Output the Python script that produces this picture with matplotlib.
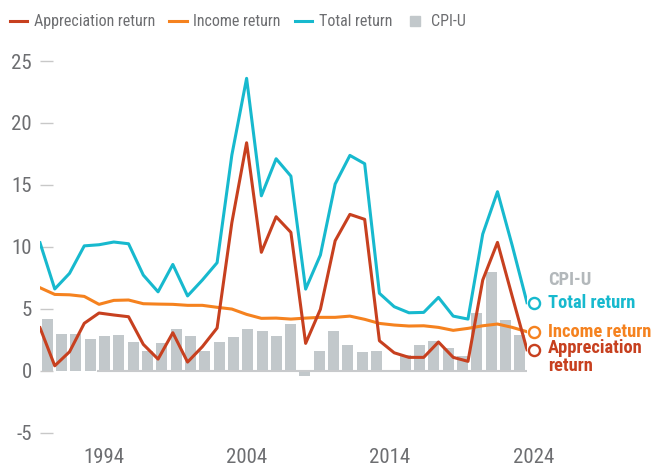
import matplotlib
matplotlib.use("Agg")
import matplotlib.pyplot as plt
import matplotlib.font_manager as fm
from matplotlib.lines import Line2D
import numpy as np

years = list(range(1991, 2025))
appreciation = [3.47, 0.4, 1.53, 3.83, 4.66, 4.5, 4.36, 2.13, 0.94, 3.07, 0.7, 1.94, 3.45,
                11.95, 18.4, 9.56, 12.43, 11.17, 2.21, 4.96, 10.49, 12.62, 12.22,
                2.42, 1.45, 1.08, 1.08, 2.32, 1.08, 0.76, 7.32, 10.36, 6.0, 1.7]
income = [6.7, 6.16, 6.13, 6.0, 5.36, 5.68, 5.71, 5.41, 5.38, 5.36, 5.28, 5.28, 5.12,
          4.98, 4.55, 4.23, 4.25, 4.17, 4.25, 4.31, 4.31, 4.41, 4.15,
          3.82, 3.69, 3.61, 3.63, 3.5, 3.26, 3.42, 3.63, 3.77, 3.5, 3.15]
total = [10.33, 6.6, 7.86, 10.08, 10.17, 10.39, 10.25, 7.72, 6.37, 8.58, 6.04, 7.32, 8.72,
         17.41, 23.6, 14.12, 17.11, 15.71, 6.59, 9.34, 15.07, 17.38, 16.71,
         6.25, 5.17, 4.68, 4.71, 5.92, 4.41, 4.17, 11.03, 14.45, 10.1, 5.5]
cpi = [4.2, 3.0, 3.0, 2.6, 2.8, 2.9, 2.3, 1.6, 2.2, 3.4, 2.8, 1.6, 2.3, 2.7, 3.4, 3.2,
       2.8, 3.8, -0.4, 1.6, 3.2, 2.1, 1.5, 1.6, 0.1, 1.3, 2.1, 2.4, 1.8, 1.2, 4.7,
       8.0, 4.1, 2.9]
tick_years = [1994, 2004, 2014, 2024]
yticks = [-5, 0, 5, 10, 15, 20, 25]

c_app = "#c7401f"
c_inc = "#f5821f"
c_tot = "#17b9ce"
c_cpi = "#c2c8cb"
c_txt = "#6d6e71"

# narrow font if there is one
fonts = fm.fontManager.ttflist
names = {f.name for f in fonts}
stretch = 'normal'
fam = 'Roboto'
for n in ['Liberation Sans Narrow', 'Roboto Condensed', 'Open Sans Condensed',
          'Noto Sans Condensed', 'DejaVu Sans Condensed']:
    if n in names:
        fam = n
        break
else:
    if any(f.name == 'DejaVu Sans' and f.stretch in ('condensed', 'semi-condensed', 600 - 100)
           for f in fonts):
        fam = 'DejaVu Sans'
        stretch = 'condensed'
plt.rcParams['font.family'] = [fam, 'DejaVu Sans']
plt.rcParams['font.stretch'] = stretch

fig = plt.figure(figsize=(6.55, 4.66), dpi=100)
ax = fig.add_axes([40 / 655, 1 - 432.7 / 466, 487 / 655, (432.7 - 61) / 466])

# bars on a band scale, lines from edge to edge
ax.bar(years, cpi, width=0.77, color=c_cpi, zorder=1)
ax.set_xlim(years[0] - 0.5, years[-1] + 0.5)
ax.set_ylim(-5, 25)
ax.hlines(0, 1994.5, years[-1] + 0.5, color="#c8cacc", lw=1.5, zorder=1.5)

ax2 = ax.twiny()
ax2.set_xlim(years[0], years[-1])
ax2.plot(years, income, color=c_inc, lw=2.2, zorder=3)
ax2.plot(years, total, color=c_tot, lw=2.2, zorder=3)
ax2.plot(years, appreciation, color=c_app, lw=2.2, zorder=3)
ax2.set_xticks([])
for a in (ax, ax2):
    for s in a.spines.values():
        s.set_visible(False)

ax.set_yticks(yticks)
ax.set_yticklabels([str(v) for v in yticks])
ax.tick_params(axis='y', direction='in', length=9, width=1, color="#c8c8c8",
               pad=5.8, labelsize=15, labelcolor=c_txt)
ax.set_xticks([y - 0.5 for y in tick_years])
ax.set_xticklabels([str(y) for y in tick_years], ha='left')
ax.tick_params(axis='x', length=0, pad=11, labelsize=15, labelcolor=c_txt)

# end markers and labels
mx = years[-1] + 1
tx = years[-1] + 1.95
for vals, col in [(total, c_tot), (income, c_inc), (appreciation, c_app)]:
    ax.plot([mx], [vals[-1]], 'o', ms=8, mfc='white', mec=col, mew=1.7,
            clip_on=False, zorder=4)
ax.text(tx, total[-1], "Total return", color=c_tot, fontsize=13.3, fontweight='bold',
        va='center', clip_on=False)
ax.text(tx, total[-1] + 1.8, "CPI-U", color="#b3b8bb", fontsize=13.3, fontweight='bold',
        va='center', clip_on=False)
ax.text(tx, income[-1], "Income return", color=c_inc, fontsize=13.3, fontweight='bold',
        va='center', clip_on=False)
ax.annotate("Appreciation\nreturn", xy=(tx, appreciation[-1]), xytext=(0, 7.5),
            textcoords='offset points', color=c_app, fontsize=13.3, fontweight='bold',
            va='top', ha='left', linespacing=1.0, annotation_clip=False)

handles = [Line2D([], [], color=c_app, lw=2.2),
           Line2D([], [], color=c_inc, lw=2.2),
           Line2D([], [], color=c_tot, lw=2.2),
           Line2D([], [], color=c_cpi, marker='s', ms=6.5, ls='none')]
labels = ["Appreciation return", "Income return", "Total return", "CPI-U"]
leg = fig.legend(handles, labels, loc='upper left', bbox_to_anchor=(0.0, 0.99), ncol=4,
                 frameon=False, fontsize=11.5, handlelength=1.1, handletextpad=0.4,
                 columnspacing=0.9, borderaxespad=0.2, borderpad=0.4)
for t in leg.get_texts():
    t.set_color(c_txt)

fig.savefig("out.png", dpi=100)
